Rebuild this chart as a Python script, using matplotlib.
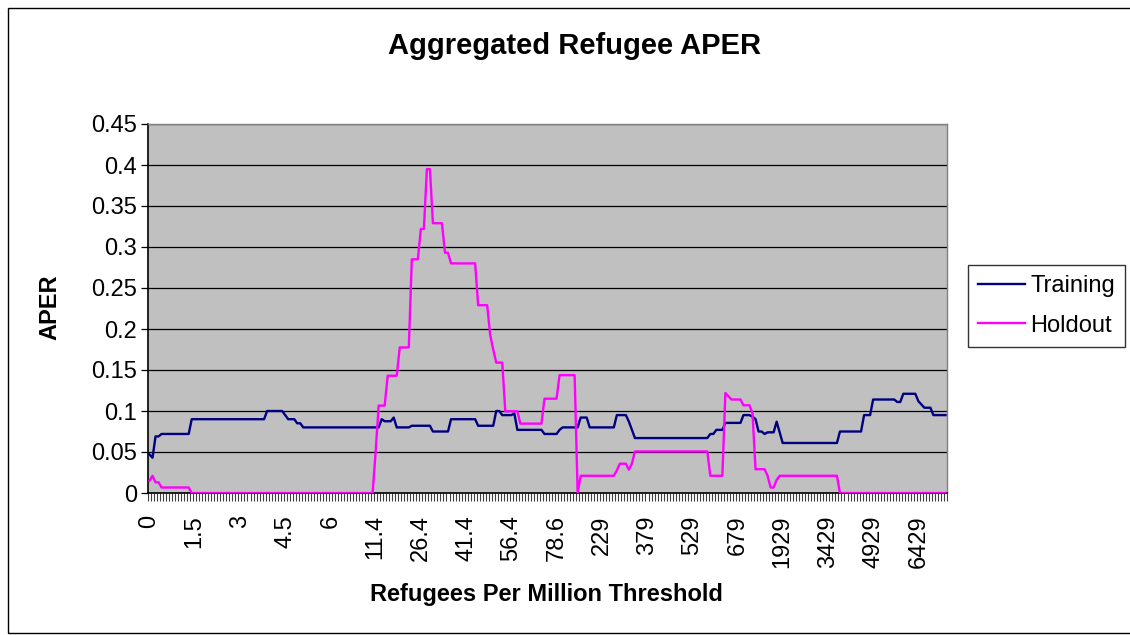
import numpy as np
import matplotlib
matplotlib.use("Agg")
import matplotlib.pyplot as plt
from matplotlib.patches import Rectangle

plt.rcParams['font.family'] = ['Liberation Sans', 'DejaVu Sans']

# ---- data (run-length encoded: (value, number of consecutive categories)) ----
n_categories = 265
tick_labels = ["0", "1.5", "3", "4.5", "6", "11.4", "26.4", "41.4", "56.4", "78.6",
               "229", "379", "529", "679", "1929", "3429", "4929", "6429"]
label_every = 15

training_runs = [
    (0.047, 1), (0.043, 1), (0.069, 2), (0.072, 10), (0.09, 25), (0.1, 6), (0.095, 1),
    (0.09, 3), (0.085, 2), (0.08, 26), (0.09, 1), (0.0875, 3), (0.092, 1), (0.08, 5),
    (0.082, 7), (0.075, 6), (0.09, 9), (0.082, 6), (0.1, 2), (0.095, 4), (0.097, 1),
    (0.077, 9), (0.072, 5), (0.077, 1), (0.08, 6), (0.092, 3), (0.08, 9), (0.095, 4),
    (0.087, 1), (0.077, 1), (0.067, 25), (0.072, 2), (0.077, 3), (0.0855, 6), (0.095, 3),
    (0.093, 1), (0.09, 1), (0.075, 2), (0.072, 1), (0.074, 3), (0.087, 1), (0.074, 1),
    (0.061, 19), (0.075, 8), (0.095, 3), (0.114, 8), (0.111, 2), (0.121, 5), (0.112, 1),
    (0.108, 1), (0.104, 3), (0.095, 5),
]
holdout_runs = [
    (0.015, 1), (0.021, 1), (0.013, 2), (0.0067, 10), (0.0, 61), (0.05, 1), (0.1066, 3),
    (0.143, 4), (0.1775, 4), (0.285, 3), (0.322, 2), (0.395, 2), (0.329, 4), (0.293, 2),
    (0.28, 9), (0.229, 4), (0.1925, 1), (0.175, 1), (0.159, 3), (0.0997, 5), (0.0846, 8),
    (0.115, 5), (0.1437, 6), (0.0, 1), (0.021, 12), (0.0275, 1), (0.0357, 3), (0.0284, 1),
    (0.036, 1), (0.0507, 25), (0.021, 5), (0.122, 1), (0.118, 1), (0.114, 4), (0.107, 3),
    (0.097, 1), (0.029, 4), (0.021, 1), (0.0067, 2), (0.016, 1), (0.021, 20), (0.0, 36),
]


def expand(runs):
    vals, counts = zip(*runs)
    return np.repeat(vals, counts)


training = expand(training_runs)
holdout = expand(holdout_runs)
x = np.arange(n_categories)

W, H = 1130, 635
fig = plt.figure(figsize=(W / 100, H / 100), dpi=100)
fig.patch.set_facecolor("white")

# outer chart-area border
fig.patches.append(Rectangle((8 / W, 2 / H), (W + 10) / W, (H - 10) / H,
                             transform=fig.transFigure, fill=False,
                             edgecolor="black", linewidth=1.0))

left, right, top, bottom = 148, 947, 124, 493
ax = fig.add_axes([left / W, 1 - bottom / H, (right - left) / W, (bottom - top) / H])
ax.set_facecolor("#C0C0C0")

ax.plot(x, training, color="#000080", linewidth=1.7, label="Training", zorder=3)
ax.plot(x, holdout, color="#FF00FF", linewidth=1.7, label="Holdout", zorder=3)

ax.set_xlim(-0.5, n_categories - 0.5)
ax.set_ylim(0, 0.45)
yt = np.arange(0, 0.451, 0.05)
ax.set_yticks(yt)
ax.set_yticklabels(["0", "0.05", "0.1", "0.15", "0.2", "0.25", "0.3", "0.35", "0.4", "0.45"],
                   fontsize=17)
ax.yaxis.grid(True, color="black", linewidth=0.9)
ax.set_axisbelow(True)

ax.set_xticks(np.arange(0, len(tick_labels) * label_every, label_every))
ax.set_xticklabels(tick_labels, rotation=90, fontsize=17)
ax.tick_params(axis="x", length=0, pad=16)
ax.set_xticks(np.arange(-0.5, n_categories, 1), minor=True)
ax.tick_params(axis="x", which="minor", length=5.5, width=0.8, color="#404040")
ax.tick_params(axis="y", length=5, width=0.9, pad=3)

for s in ["top", "right"]:
    ax.spines[s].set_color("#808080")
    ax.spines[s].set_linewidth(1.0)
for s in ["left", "bottom"]:
    ax.spines[s].set_color("black")
    ax.spines[s].set_linewidth(1.2)

fig.text(575 / W, 1 - 46 / H, "Aggregated Refugee APER", ha="center", va="center",
         fontsize=21, fontweight="bold")
fig.text(546 / W, 1 - 594 / H, "Refugees Per Million Threshold", ha="center", va="center",
         fontsize=17, fontweight="bold")
fig.text(50 / W, 1 - 307 / H, "APER", ha="center", va="center", rotation=90,
         fontsize=17, fontweight="bold")

leg = fig.legend(loc="upper left", bbox_to_anchor=(968 / W, 1 - 265 / H), fontsize=17,
                 frameon=True, fancybox=False, edgecolor="black", borderpad=0.42,
                 handlelength=2.0, handletextpad=0.22, labelspacing=0.75, borderaxespad=0)
leg.get_frame().set_linewidth(1.0)

fig.savefig("out.png", dpi=100)
